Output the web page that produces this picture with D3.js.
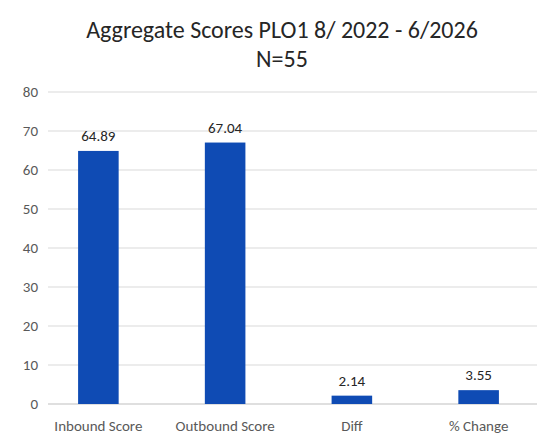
<!DOCTYPE html>
<html>
<head>
<meta charset="utf-8">
<script src="https://cdn.jsdelivr.net/npm/d3@7"></script>
<style>
body { margin: 0; background: #fff; }
text { font-family: Calibri, Lato, "Liberation Sans", Arial, sans-serif; }
</style>
</head>
<body>
<script>
// chart data
const categories = ["Inbound Score", "Outbound Score", "Diff", "% Change"];
const scores = [64.89, 67.04, 2.14, 3.55];
const yTicks = [0, 10, 20, 30, 40, 50, 60, 70, 80];

const svg = d3.select("body").append("svg").attr("width", 555).attr("height", 444);

const x = d3.scaleBand().domain(categories).range([35, 542]).paddingInner(0.68).paddingOuter(0.34);
const y = d3.scaleLinear().domain([0, 80]).range([404, 92]);

// gridlines
svg.selectAll(".grid").data(yTicks).enter().append("line")
  .attr("x1", 48).attr("x2", 537)
  .attr("y1", d => y(d)).attr("y2", d => y(d))
  .attr("stroke", d => d === 0 ? "#bfbfbf" : "#d9d9d9").attr("stroke-width", 1);

// y labels
svg.selectAll(".ylab").data(yTicks).enter().append("text")
  .attr("x", 38).attr("y", d => y(d) + 5).attr("text-anchor", "end")
  .attr("font-size", 15).attr("fill", "#595959").text(d => d);

// bars
svg.selectAll(".bar").data(scores).enter().append("rect")
  .attr("x", (d, i) => x(categories[i])).attr("width", x.bandwidth())
  .attr("y", d => y(d)).attr("height", d => y(0) - y(d))
  .attr("fill", "#0f4bb4");

// value labels
svg.selectAll(".val").data(scores).enter().append("text")
  .attr("x", (d, i) => x(categories[i]) + x.bandwidth() / 2).attr("y", d => y(d) - 10)
  .attr("text-anchor", "middle").attr("font-size", 15).attr("fill", "#262626")
  .text(d => d.toFixed(2));

// category labels
svg.selectAll(".xlab").data(categories).enter().append("text")
  .attr("x", d => x(d) + x.bandwidth() / 2).attr("y", 431)
  .attr("text-anchor", "middle").attr("font-size", 15).attr("fill", "#595959").text(d => d);

// title
svg.append("text").attr("x", 282).attr("y", 38).attr("text-anchor", "middle")
  .attr("font-size", 24).attr("fill", "#262626").text("Aggregate Scores PLO1 8/ 2022 - 6/2026");
svg.append("text").attr("x", 282).attr("y", 67).attr("text-anchor", "middle")
  .attr("font-size", 24).attr("fill", "#262626").text("N=55");
</script>
</body>
</html>
